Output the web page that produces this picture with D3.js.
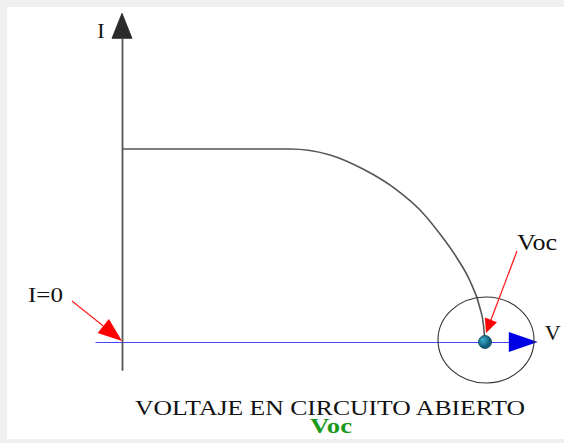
<!DOCTYPE html>
<html><head><meta charset="utf-8">
<script src="https://cdn.jsdelivr.net/npm/d3@7"></script>
<style>html,body{margin:0;padding:0;background:#f0f0f0;}svg{display:block;}
text{font-family:"Liberation Serif","DejaVu Serif","Times New Roman",serif;}</style>
</head><body><svg id="c" width="564" height="443"></svg>
<script>
// Data (V in volts, I in amps)
const voltage = [0, 0.10, 0.20, 0.2777, 0.3438, 0.3983, 0.4545, 0.4926, 0.5256, 0.5537, 0.5752, 0.5917, 0.5975, 0.6];
const current = [3.0, 3.0, 3.0, 3.0, 2.907, 2.689, 2.362, 2.052, 1.679, 1.306, 0.948, 0.529, 0.264, 0];
const vocValue = 0.6;
const axisLabels = ["I", "V"];
const annotations = ["I=0", "Voc"];
const titleText = "VOLTAJE EN CIRCUITO ABIERTO";
const subtitleText = "Voc";

const svg = d3.select("#c");
svg.append("rect").attr("x",7).attr("y",7).attr("width",557).attr("height",432).attr("fill","#fff");

const x = d3.scaleLinear().domain([0, 0.6]).range([122, 485]);
const y = d3.scaleLinear().domain([0, 3]).range([342, 149]);

// X axis (blue)
const xAxisScale = x.copy().domain([-0.0446, 0.641]).range([x(-0.0446), x(0.641)]);
const gx = svg.append("g").attr("transform",`translate(0,${y(0)})`)
  .call(d3.axisBottom(xAxisScale).tickValues([]).tickSizeOuter(0));
gx.select(".domain").attr("stroke","#4646ff").attr("stroke-width",1.2);
// Y axis (dark)
const yAxisScale = y.copy().domain([-0.44, 4.72]).range([y(-0.44), y(4.72)]);
const gy = svg.append("g").attr("transform",`translate(${x(0)},0)`)
  .call(d3.axisLeft(yAxisScale).tickValues([]).tickSizeOuter(0));
gy.select(".domain").attr("stroke","#555").attr("stroke-width",1.8);

// arrowheads on axes
const yTip = y(4.72) - 25, xTip = x(0.641) + 28;
svg.append("path").attr("d", `M${x(0)},${yTip} L${x(0)-10},${y(4.72)} L${x(0)+10},${y(4.72)} Z`)
  .attr("fill","#2b2b2b").attr("stroke","#222").attr("stroke-width",0.8);
svg.append("path").attr("d", `M${xTip},${y(0)} L${x(0.641)-1},${y(0)-10} L${x(0.641)-1},${y(0)+10} Z`)
  .attr("fill","#0000e6");

// axis labels
svg.append("text").attr("x", x(0)-21).attr("y", y(4.72)).attr("text-anchor","middle")
  .style("font-size","22px").attr("fill","#111").text(axisLabels[0]);
svg.append("text").attr("x", xTip+15).attr("y", y(0)-2).attr("text-anchor","middle")
  .style("font-size","22px").attr("fill","#111").text(axisLabels[1]);

// I-V curve
const pts = voltage.map((v,i)=>[v,current[i]]);
svg.append("path").datum(pts)
  .attr("d", d3.line().x(d=>x(d[0])).y(d=>y(d[1])).curve(d3.curveMonotoneX))
  .attr("fill","none").attr("stroke","#555").attr("stroke-width",1.6);

// ellipse around Voc
svg.append("ellipse").attr("cx", x(vocValue)+1).attr("cy", y(0)-2).attr("rx",48).attr("ry",43)
  .attr("fill","none").attr("stroke","#333").attr("stroke-width",1.1);

// red arrows
function redArrow(x1,y1,x2,y2,len,w){
  const a = Math.atan2(y2-y1,x2-x1);
  const bx = x2 - len*Math.cos(a), by = y2 - len*Math.sin(a);
  svg.append("line").attr("x1",x1).attr("y1",y1).attr("x2",bx).attr("y2",by)
    .attr("stroke","#ff2020").attr("stroke-width",1.3);
  const px = -Math.sin(a)*w/2, py = Math.cos(a)*w/2;
  svg.append("path").attr("d",`M${x2},${y2} L${bx+px},${by+py} L${bx-px},${by-py} Z`).attr("fill","#f00");
}
redArrow(72, 301, x(0), y(0)-1, 24, 18);
redArrow(517, 251, x(vocValue)+1, y(0)-9, 14, 13);

// Voc point
const grad = svg.append("defs").append("radialGradient").attr("id","g").attr("cx","35%").attr("cy","35%");
grad.append("stop").attr("offset","0%").attr("stop-color","#3fb0d0");
grad.append("stop").attr("offset","100%").attr("stop-color","#0d5f7c");
svg.append("circle").attr("cx", x(vocValue)).attr("cy", y(0)).attr("r",6.5)
  .attr("fill","url(#g)").attr("stroke","#0a4050").attr("stroke-width",0.8);

// annotation texts
svg.append("text").attr("x",28).attr("y",302).style("font-size","21px")
  .attr("textLength",35).attr("lengthAdjust","spacingAndGlyphs")
  .attr("fill","#111").text(annotations[0]);
svg.append("text").attr("x",517).attr("y",250).style("font-size","24px")
  .attr("textLength",40).attr("lengthAdjust","spacingAndGlyphs")
  .attr("fill","#111").text(annotations[1]);

// title
svg.append("text").attr("x",135).attr("y",415)
  .style("font-size","22px").attr("textLength",390).attr("lengthAdjust","spacingAndGlyphs")
  .attr("fill","#111").text(titleText);
svg.append("text").attr("x",310).attr("y",433)
  .style("font-size","21px").style("font-weight","bold")
  .attr("textLength",42).attr("lengthAdjust","spacingAndGlyphs")
  .attr("fill","#1a9a1a").text(subtitleText);
</script></body></html>
